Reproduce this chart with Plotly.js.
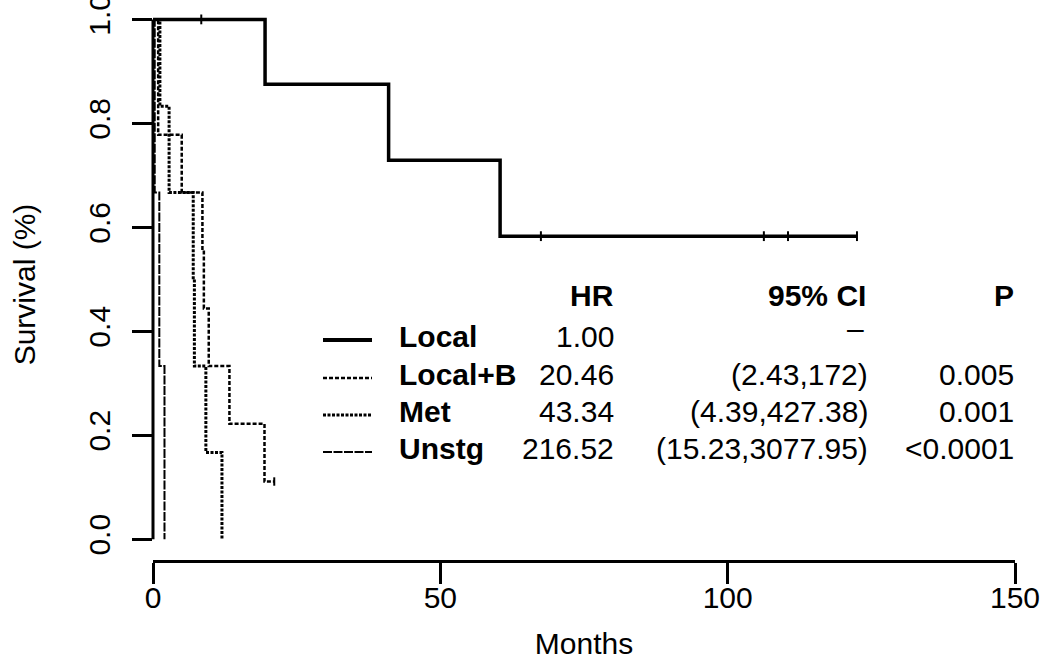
<!DOCTYPE html>
<html><head><meta charset="utf-8">
<script src="https://cdn.plot.ly/plotly-3.0.1.min.js"></script>
<style>html,body{margin:0;padding:0;background:#fff;}#chart{width:1049px;height:662px;}</style>
</head><body><div id="chart"></div>
<script>
// ---- data ----
const groups = ["Local", "Local+B", "Met", "Unstg"];
const localT = [0, 19.5, 41.0, 60.4, 122.5];
const localS = [1, 0.875, 0.729, 0.583, 0.583];
const localCensT = [8.4, 67.5, 106.3, 110.5, 122.5];
const localCensS = [1, 0.583, 0.583, 0.583, 0.583];
const localBT = [0, 0.9, 5.0, 8.6, 8.85, 9.7, 13.3, 19.4, 21.1];
const localBS = [1, 0.778, 0.667, 0.556, 0.444, 0.333, 0.222, 0.111, 0.111];
const localBCensT = [21.1];
const localBCensS = [0.111];
const metT = [0, 1.2, 2.8, 7.0, 7.2, 9.2, 12.0];
const metS = [1, 0.833, 0.667, 0.5, 0.333, 0.167, 0];
const unstgT = [0, 0.3, 1.1, 2.0];
const unstgS = [1, 0.667, 0.333, 0];
const hrValues = ["1.00", "20.46", "43.34", "216.52"];
const ciValues = ["–", "(2.43,172)", "(4.39,427.38)", "(15.23,3077.95)"];
const pValues = ["", "0.005", "0.001", "<0.0001"];
const headers = ["HR", "95% CI", "P"];
const xTicks = [0, 50, 100, 150];
const yTicks = [0, 0.2, 0.4, 0.6, 0.8, 1.0];
const yTickText = ["0.0", "0.2", "0.4", "0.6", "0.8", "1.0"];

// ---- styles ----
const FONT = "Liberation Sans, Arial, Helvetica, sans-serif";
const styles = [
  {width: 3.5, dash: "solid"},
  {width: 2.5, dash: "4px,2px"},
  {width: 3, dash: "3px,1.5px"},
  {width: 2, dash: "9px,1.5px"}
];
const series = [[localT, localS], [localBT, localBS], [metT, metS], [unstgT, unstgS]];

const W = 1049, H = 662;
const M = {l: 153, r: 34, t: 9, b: 102};
const px2x = px => (px - M.l) / (W - M.l - M.r);
const px2y = py => (H - M.b - py) / (H - M.t - M.b);

const traces = series.map((s, i) => ({
  x: s[0], y: s[1], name: groups[i], type: "scatter", mode: "lines",
  line: {shape: "hv", color: "black", width: styles[i].width, dash: styles[i].dash},
  showlegend: false, hoverinfo: "x+y+name"
}));
traces.push({x: localCensT, y: localCensS, type: "scatter", mode: "markers", showlegend: false,
  marker: {symbol: "line-ns", size: 7, line: {width: 2, color: "black"}}, hoverinfo: "skip"});
traces.push({x: localBCensT, y: localBCensS, type: "scatter", mode: "markers", showlegend: false,
  marker: {symbol: "line-ns", size: 6, line: {width: 2, color: "black"}}, hoverinfo: "skip"});

// legend / table layout positions (px)
const rowY = [336, 374, 411, 448];
const headY = 296;
const colLabelX = 397, colHR = 616, colCI = 870, colP = 1016;
const lineX0 = 323, lineX1 = 372;

const annotations = [];
const shapes = [];
const tf = {family: FONT, size: 30, color: "black"};
function ann(text, px, py, anchor, extra) {
  annotations.push(Object.assign({text: text, xref: "paper", yref: "paper", x: px2x(px), y: px2y(py),
    xanchor: anchor, yanchor: "middle", showarrow: false, font: tf}, extra || {}));
}
ann("<b>" + headers[0] + "</b>", colHR, headY, "right");
ann("<b>" + headers[1] + "</b>", colCI - 2, headY, "right");
ann("<b>" + headers[2] + "</b>", colP, headY, "right");
groups.forEach((g, i) => {
  ann("<b>" + g + "</b>", colLabelX, rowY[i], "left");
  ann(hrValues[i], colHR, rowY[i], "right");
  if (ciValues[i]) ann(ciValues[i], i === 0 ? colCI - 4 : colCI, rowY[i], "right", i === 0 ? {yshift: 8} : {});
  if (pValues[i]) ann(pValues[i], colP, rowY[i], "right");
  shapes.push({type: "line", xref: "paper", yref: "paper", x0: px2x(lineX0), x1: px2x(lineX1),
    y0: px2y(rowY[i] + 4), y1: px2y(rowY[i] + 4),
    line: {color: "black", width: i === 0 ? 4 : styles[i].width, dash: styles[i].dash}});
});
// y axis line spanning only the tick range
shapes.push({type: "line", xref: "paper", yref: "y", x0: 0, x1: 0,
  y0: yTicks[0], y1: yTicks[yTicks.length - 1], line: {color: "black", width: 3}});

const layout = {
  width: W, height: H, margin: M,
  paper_bgcolor: "white", plot_bgcolor: "white",
  font: {family: FONT, size: 30, color: "black"},
  xaxis: {range: [0, 150], tickvals: xTicks, ticks: "outside", ticklen: 21, tickwidth: 3,
    tickcolor: "black", showline: true, linewidth: 3, linecolor: "black", mirror: false,
    showgrid: false, zeroline: false, tickfont: {family: FONT, size: 30}, ticklabelstandoff: -12,
    ticklabeloverflow: "allow",
    title: {text: "Months", font: {family: FONT, size: 30}, standoff: 20}},
  yaxis: {range: [-0.04, 1.02], tickvals: yTicks, ticktext: yTickText, tickangle: -90,
    ticks: "outside", ticklen: 20, tickwidth: 3, tickcolor: "black", showline: false,
    showgrid: false, zeroline: false, tickfont: {family: FONT, size: 30}, ticklabelstandoff: 10,
    ticklabeloverflow: "allow",
    title: {text: "Survival (%)", font: {family: FONT, size: 30}, standoff: 38}},
  annotations: annotations, shapes: shapes
};
Plotly.newPlot("chart", traces, layout, {displayModeBar: false, staticPlot: true});
</script></body></html>
